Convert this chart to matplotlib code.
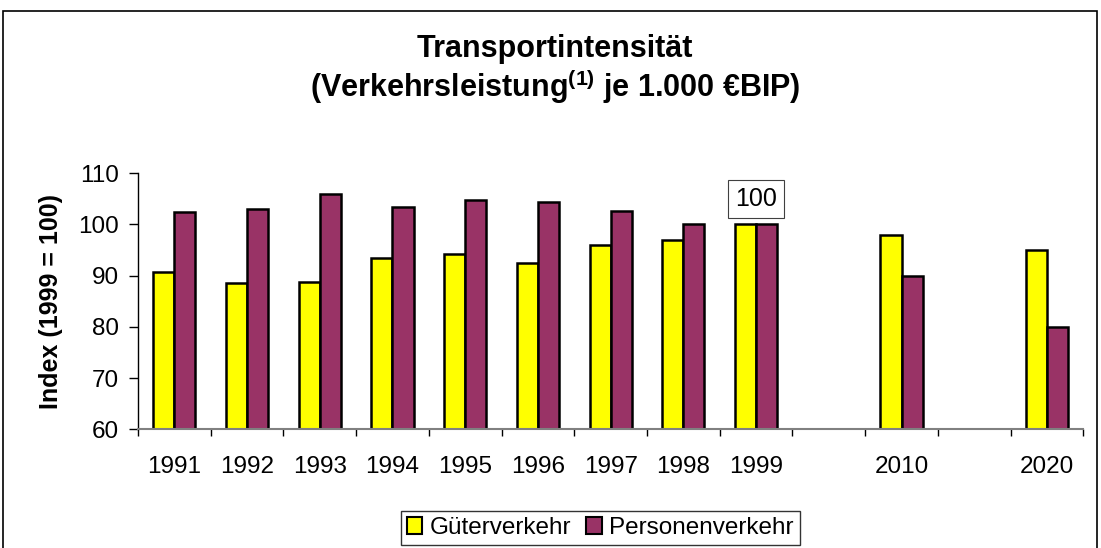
import matplotlib
matplotlib.use('agg')
import matplotlib.pyplot as plt  # noqa: E402
from matplotlib.patches import Patch, Rectangle  # noqa: E402
import numpy as np  # noqa: E402

plt.rcParams['font.family'] = ['Liberation Sans', 'DejaVu Sans']
plt.rcParams['mathtext.fontset'] = 'custom'
plt.rcParams['mathtext.rm'] = 'Liberation Sans:bold'
plt.rcParams['mathtext.bf'] = 'Liberation Sans:bold'

# data (index, 1999 = 100); empty slots are gaps on the category axis
years = ['1991', '1992', '1993', '1994', '1995', '1996', '1997', '1998',
         '1999', '', '2010', '', '2020']
gueter = [90.7, 88.6, 88.7, 93.4, 94.2, 92.5, 96.0, 96.9, 100.0,
          None, 98.0, None, 95.0]
personen = [102.5, 103.1, 106.0, 103.4, 104.7, 104.3, 102.6, 100.0, 100.0,
            None, 90.0, None, 80.0]
yticks = [60, 70, 80, 90, 100, 110]

c_gueter = '#FFFF00'
c_personen = '#993366'

fig = plt.figure(figsize=(11.01, 5.48), dpi=100)
ax = fig.add_axes([0.1253, 0.2166, 0.984 - 0.1253, 0.6838 - 0.2166])

x = np.arange(len(years))
w = 0.29
xg = [i for i, v in zip(x, gueter) if v is not None]
vg = [v for v in gueter if v is not None]
xp = [i for i, v in zip(x, personen) if v is not None]
vp = [v for v in personen if v is not None]
ax.bar(np.array(xg) - w / 2, vg, w, color=c_gueter, edgecolor='black',
       linewidth=1.8, zorder=3)
ax.bar(np.array(xp) + w / 2, vp, w, color=c_personen, edgecolor='black',
       linewidth=1.8, zorder=3)

ax.set_xlim(-0.5, len(years) - 0.5)
ax.set_ylim(yticks[0], yticks[-1])
ax.set_yticks(yticks)
ax.set_xticks(x)
ax.set_xticklabels(years)
ax.set_xticks(np.arange(len(years) + 1) - 0.5, minor=True)
ax.tick_params(axis='x', which='major', length=0, pad=19, labelsize=17.5)
ax.tick_params(axis='x', which='minor', length=5, width=1, direction='out')
ax.tick_params(axis='y', length=6.5, width=1, pad=7, labelsize=17.5)

for s in ['top', 'right']:
    ax.spines[s].set_visible(False)
ax.spines['left'].set_linewidth(1)
ax.spines['bottom'].set_color('#808080')
ax.spines['bottom'].set_linewidth(1.5)
ax.spines['bottom'].set_zorder(4)

# label above the 1999 base year
ax.annotate('100', xy=(8, 100), xytext=(0, 9.5), textcoords='offset points',
            ha='center', va='bottom', fontsize=18,
            bbox=dict(boxstyle='square,pad=0.28', fc='white', ec='#404040',
                      lw=0.8))

fig.text(0.504, 0.8965, 'Transportintensität', ha='center', va='baseline',
         fontsize=22, fontweight='bold')
fig.text(0.504, 0.8235,
         r'(Verkehrsleistung$^{(1)}$ je 1.000 €BIP)',
         ha='center', va='baseline', fontsize=22, fontweight='bold')
fig.text(0.0463, 0.4507, 'Index (1999 = 100)', rotation=90, ha='center',
         va='center', fontsize=18, fontweight='bold')

handles = [Patch(facecolor=c_gueter, edgecolor='black', linewidth=1.5),
           Patch(facecolor=c_personen, edgecolor='black', linewidth=1.5)]
leg = fig.legend(handles, ['Güterverkehr', 'Personenverkehr'],
                 loc='center', bbox_to_anchor=(0.545, 0.0365), ncol=2,
                 fontsize=17.5, frameon=True, fancybox=False,
                 handlelength=0.65, handleheight=0.65, handletextpad=0.3,
                 columnspacing=0.6, borderpad=0.25, borderaxespad=0)
leg.get_frame().set_edgecolor('black')
leg.get_frame().set_linewidth(1)

# outer chart border
fig.patches.append(Rectangle((3 / 1101, -0.05), 1094 / 1101,
                             1.05 - 11 / 548, transform=fig.transFigure,
                             fill=False, edgecolor='black', linewidth=1.2))

fig.savefig('out.png', dpi=100)
plt.close(fig)
